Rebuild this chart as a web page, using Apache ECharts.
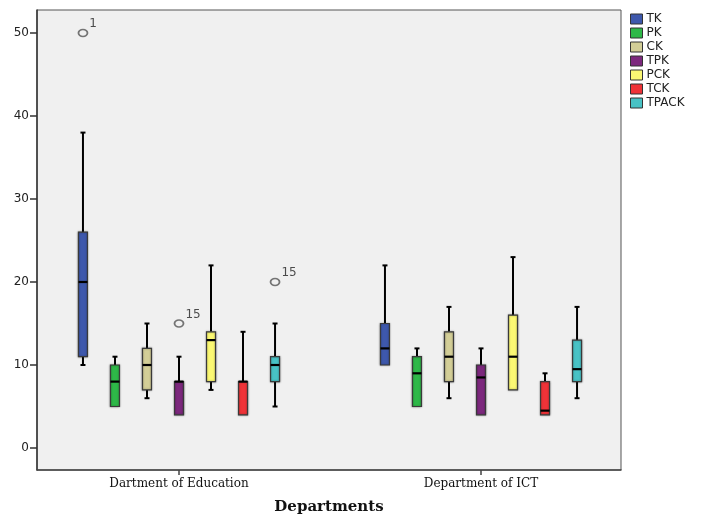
<!DOCTYPE html>
<html><head><meta charset="utf-8">
<script src="https://cdn.jsdelivr.net/npm/echarts@6/dist/echarts.min.js"></script>
<style>html,body{margin:0;padding:0;background:#fff}#c{width:701px;height:519px}</style>
</head><body><div id="c"></div>
<script>
// ---- data ----
const departments = ['Dartment of Education', 'Department of ICT'];
const seriesNames = ['TK', 'PK', 'CK', 'TPK', 'PCK', 'TCK', 'TPACK'];
// [min, Q1, median, Q3, max] for [Education, ICT]
const TK    = [[10, 11, 20, 26, 38], [10, 10, 12, 15, 22]];
const PK    = [[5, 5, 8, 10, 11],    [5, 5, 9, 11, 12]];
const CK    = [[6, 7, 10, 12, 15],   [6, 8, 11, 14, 17]];
const TPK   = [[4, 4, 8, 8, 11],     [4, 4, 8.5, 10, 12]];
const PCK   = [[7, 8, 13, 14, 22],   [7, 7, 11, 16, 23]];
const TCK   = [[4, 4, 8, 8, 14],     [4, 4, 4.5, 8, 9]];
const TPACK = [[5, 8, 10, 11, 15],   [6, 8, 9.5, 13, 17]];
// outliers: [department index, series index, value, case label]
const outliers = [[0, 0, 50, '1'], [0, 3, 15, '15'], [0, 6, 20, '15']];
const yTicks = [0, 10, 20, 30, 40, 50];
const colors = ['#3E58AC', '#2EB848', '#D3CE97', '#7C287D', '#FBF873', '#EF3338', '#48C2C5'];

// ---- layout ----
const allBoxes = [TK, PK, CK, TPK, PCK, TCK, TPACK];
const slot = 0.106;               // offset between boxes inside a department (axis units)
const off = s => (s - 3) * slot;
const boxHalf = 4.5, capHalf = 2.5;

function renderItem(params, api) {
  const x = api.value(0);
  const v = [api.value(1), api.value(2), api.value(3), api.value(4), api.value(5)];
  const xc = api.coord([x, 0])[0];
  const y = v.map(val => api.coord([x, val])[1]);
  const color = api.visual('color');
  const ch = [];
  const ln = (x1, y1, x2, y2, w) => ({type: 'line', shape: {x1, y1, x2, y2}, style: {stroke: '#000', lineWidth: w}});
  if (v[4] > v[3]) { ch.push(ln(xc, y[4], xc, y[3], 2)); ch.push(ln(xc - capHalf, y[4], xc + capHalf, y[4], 2)); }
  if (v[1] > v[0]) { ch.push(ln(xc, y[1], xc, y[0], 2)); ch.push(ln(xc - capHalf, y[0], xc + capHalf, y[0], 2)); }
  ch.push({type: 'rect', shape: {x: xc - boxHalf, y: y[3], width: boxHalf * 2, height: y[1] - y[3]},
    style: {fill: color, stroke: '#3a3a3a', lineWidth: 1.2, shadowBlur: 2, shadowColor: 'rgba(0,0,0,0.35)'}});
  ch.push(ln(xc - boxHalf, y[2], xc + boxHalf, y[2], 2.2));
  return {type: 'group', children: ch};
}

const series = seriesNames.map((name, s) => ({
  name, type: 'custom', renderItem,
  itemStyle: {color: colors[s]},
  encode: {x: 0, y: [1, 2, 3, 4, 5]},
  data: allBoxes[s].map((b, d) => [d + off(s)].concat(b)),
  z: 2
}));
series.push({
  name: 'outliers', type: 'scatter', symbol: 'circle', symbolSize: [9, 7],
  itemStyle: {color: 'rgba(0,0,0,0)', borderColor: '#555', borderWidth: 1.6},
  data: outliers.map(o => [o[0] + off(o[1]), o[2], o[3]]),
  label: {show: true, position: 'right', distance: 1, offset: [0, -9], formatter: p => p.data[2],
    fontFamily: 'DejaVu Sans', fontSize: 12, color: '#222'},
  z: 3, silent: true
});

const chart = echarts.init(document.getElementById('c'), null, {renderer: 'canvas'});
chart.setOption({
  animation: false,
  backgroundColor: '#fff',
  color: colors,
  grid: {left: 37, right: 80, top: 10, bottom: 49, outerBoundsMode: 'none', containLabel: false,
    show: true, backgroundColor: '#f0f0f0', borderColor: '#555', borderWidth: 1},
  legend: {
    data: seriesNames, orient: 'vertical', left: 625, top: 8, icon: 'rect', itemWidth: 12, itemHeight: 10, itemGap: 2,
    itemStyle: {borderColor: '#333', borderWidth: 1},
    textStyle: {fontFamily: 'DejaVu Sans', fontSize: 12, color: '#222', padding: [0, 0, 0, -1]}
  },
  xAxis: {
    type: 'value', min: -142 / 302, max: 1 + 140 / 302,
    axisLine: {show: true, onZero: false, lineStyle: {color: '#444', width: 1.5}},
    axisTick: {show: true, customValues: [0, 1], length: 5, lineStyle: {color: '#444', width: 1.5}},
    axisLabel: {customValues: [0, 1], formatter: v => departments[Math.round(v)], margin: 8,
      fontFamily: 'DejaVu Serif', fontSize: 12, color: '#111'},
    splitLine: {show: false},
    name: 'Departments', nameLocation: 'middle', nameGap: 30,
    nameTextStyle: {fontFamily: 'DejaVu Serif', fontWeight: 'bold', fontSize: 15, color: '#111'}
  },
  yAxis: {
    type: 'value', min: -2.65, max: 52.77,
    axisLine: {show: true, onZero: false, lineStyle: {color: '#333', width: 1.5}},
    axisTick: {show: true, customValues: yTicks, length: 7, lineStyle: {color: '#333', width: 1.5}},
    axisLabel: {customValues: yTicks, margin: 8, fontFamily: 'DejaVu Sans', fontSize: 12, color: '#222'},
    splitLine: {show: false}
  },
  series
});
</script></body></html>
